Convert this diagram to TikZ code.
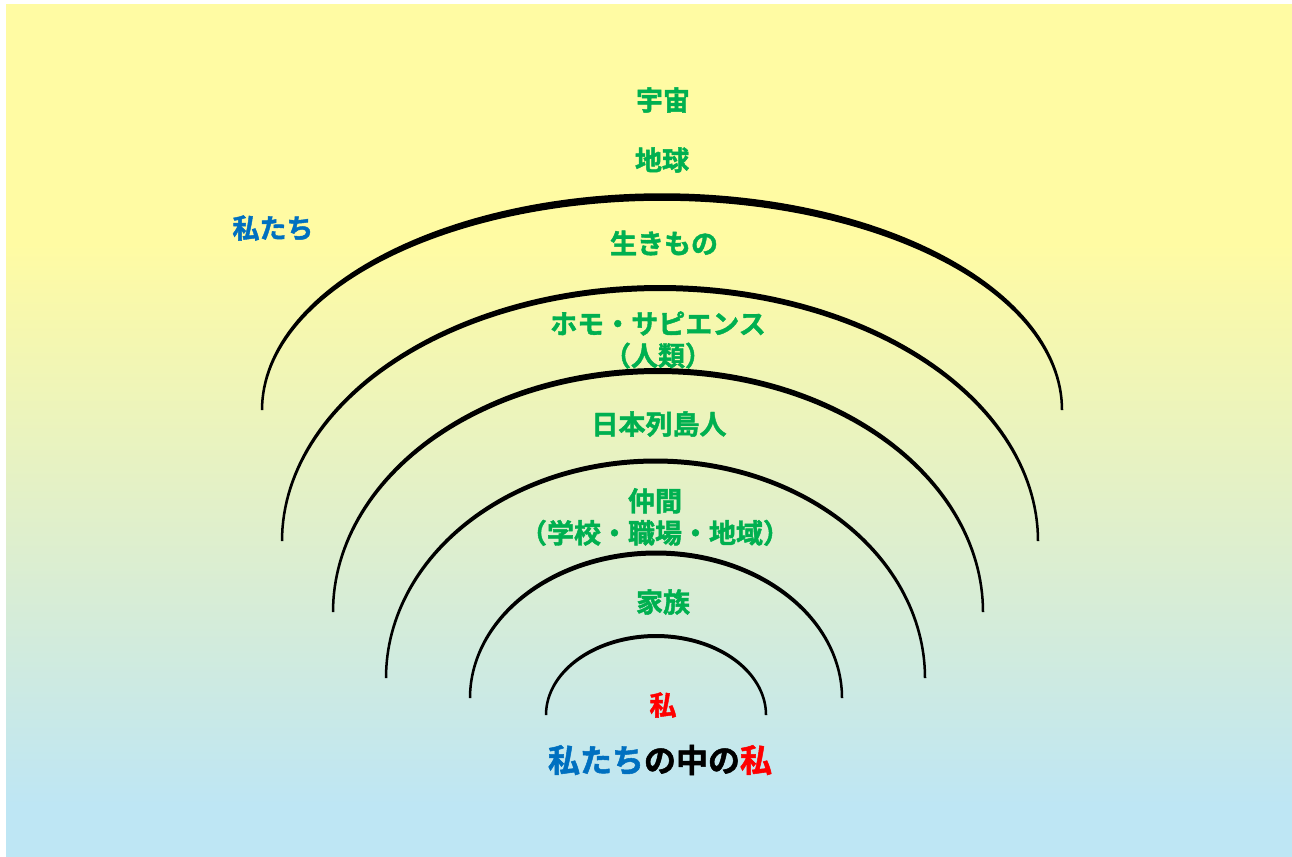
\documentclass[tikz,border=0pt]{standalone}
\usepackage{fontspec}
\newfontfamily\jp{Noto Sans CJK JP}[BoldFont={Noto Sans CJK JP Bold}, BoldFeatures={FakeBold=1.6}]
\definecolor{bgyellow}{HTML}{FFFBA3}
\definecolor{bggreen}{HTML}{DCEED0}
\definecolor{bgblue}{HTML}{BEE6F4}
\definecolor{lblgreen}{HTML}{00B050}
\definecolor{lblblue}{HTML}{0070C0}
\definecolor{lblred}{HTML}{FF0000}
\pgfdeclareverticalshading{bgshade}{100bp}{color(0bp)=(bgblue); color(28bp)=(bgblue); color(42.5bp)=(bggreen); color(61bp)=(bgyellow); color(100bp)=(bgyellow)}
\tikzset{
  lbl/.style={font=\jp\bfseries\fontsize{27}{32}\selectfont, text=lblgreen, align=center, inner sep=0pt},
  title/.style={font=\jp\bfseries\fontsize{32}{36}\selectfont, inner sep=0pt},
}
% \ringarc{cx}{cy}{rx}{ry}{top thickness}{side thickness}
\newcommand\ringarc[6]{%
  \fill[black] plot[domain=0:180, samples=120] ({#1+(#3+#6/2)*cos(\x)}, {#2-(#4+#5/2)*sin(\x)})
    -- plot[domain=180:0, samples=120] ({#1+(#3-#6/2)*cos(\x)}, {#2-(#4-#5/2)*sin(\x)}) -- cycle;}
\begin{document}
\begin{tikzpicture}[x=1pt,y=-1pt]
\useasboundingbox (0,0) rectangle (1292,856);
\shade[shading=bgshade] (6,5) rectangle (1292,856);
\ringarc{662}{410}{400}{213}{7.5}{2.5}
\ringarc{660}{541}{378}{253}{6}{2.5}
\ringarc{658}{612}{325}{241}{6}{2.5}
\ringarc{655.5}{678}{269.5}{217}{5}{2.5}
\ringarc{656}{698}{186}{145}{5}{2.5}
\ringarc{656}{715}{110}{79}{4}{2.5}
\node[lbl] (uchu) at (663,100) {宇宙};
\node[lbl] (chikyu) at (662,160) {地球};
\node[lbl, text=lblblue] (watashitachi) at (273,228) {私たち};
\node[lbl] (ikimono) at (664,243) {生きもの};
\node[lbl] (homo) at (658,340) {ホモ・サピエンス\\（人類）};
\node[lbl] (nihon) at (659,424) {日本列島人};
\node[lbl] (nakama) at (655,517) {仲間\\（学校・職場・地域）};
\node[lbl] (kazoku) at (663,602) {家族};
\node[lbl, text=lblred] (watashi) at (663,705) {私};
\node[title] (ttl) at (660,760) {\textcolor{lblblue}{私たち}の中の\textcolor{lblred}{私}};
\end{tikzpicture}
\end{document}
